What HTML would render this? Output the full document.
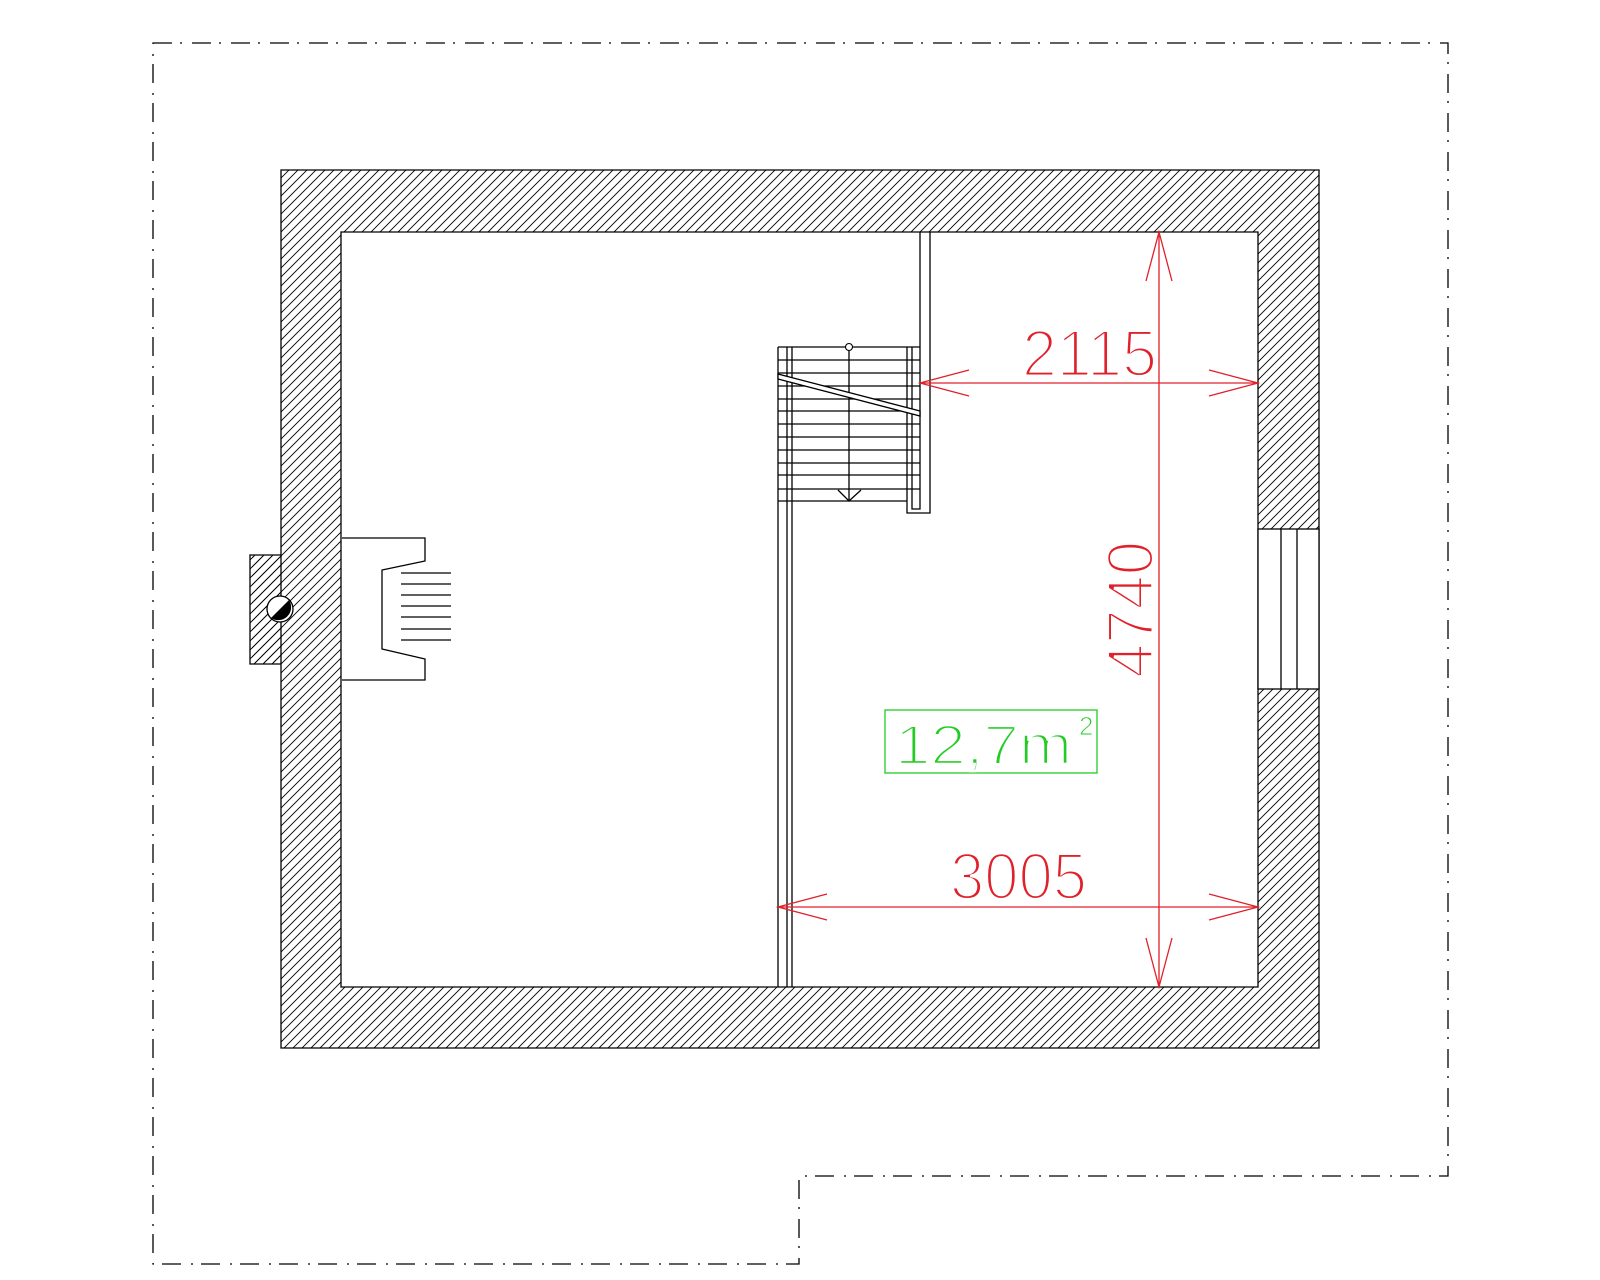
<!DOCTYPE html>
<html><head><meta charset="utf-8"><style>html,body{margin:0;padding:0;background:#fff}svg{display:block}</style></head>
<body>
<svg xmlns="http://www.w3.org/2000/svg" width="1600" height="1280" viewBox="0 0 1600 1280">
<defs>
<pattern id="h" width="9" height="9" patternUnits="userSpaceOnUse">
<path d="M-2,11 L11,-2 M-2,2 L2,-2 M7,11 L11,7" stroke="#000" stroke-width="0.9"/>
</pattern>
</defs>
<rect width="1600" height="1280" fill="#fff"/>
<path d="M153,43 H1448 V1176 H799 V1264 H153 Z" fill="none" stroke="#000" stroke-width="1.3" stroke-dasharray="19 8 2 10"/>
<path d="M281,170 H1319 V1048 H281 Z M341,232 V987 H1258 V232 Z" fill="url(#h)" fill-rule="evenodd" stroke="#000" stroke-width="1.3"/>
<path d="M281,555 H250 V664 H281" fill="url(#h)" stroke="#000" stroke-width="1.3"/>
<rect x="252" y="556" width="30" height="107" fill="url(#h)"/>
<circle cx="280" cy="609" r="13" fill="#fff" stroke="#000" stroke-width="1.3"/>
<path d="M289,600 A13,13 0 0 1 271,618 Z" fill="#000"/>
<path d="M342,538 H425 V561 L382,570 V649 L425,659 V680 H342" fill="#fff" stroke="#000" stroke-width="1.3"/>
<g stroke="#000" stroke-width="1.2">
<line x1="401" y1="573" x2="451" y2="573"/><line x1="401" y1="584" x2="451" y2="584"/>
<line x1="401" y1="595" x2="451" y2="595"/><line x1="401" y1="606" x2="451" y2="606"/>
<line x1="401" y1="617" x2="451" y2="617"/><line x1="401" y1="629" x2="451" y2="629"/>
<line x1="401" y1="640" x2="451" y2="640"/>
</g>
<rect x="1258" y="529" width="61" height="160" fill="#fff" stroke="#000" stroke-width="1.3"/>
<line x1="1281" y1="529" x2="1281" y2="689" stroke="#000" stroke-width="1.3"/>
<line x1="1297" y1="529" x2="1297" y2="689" stroke="#000" stroke-width="1.3"/>
<g stroke="#000" stroke-width="1.3" fill="none">
<line x1="778" y1="347" x2="778" y2="987"/>
<line x1="787" y1="347" x2="787" y2="987"/>
<line x1="792" y1="347" x2="792" y2="987"/>
<path d="M907,347 V513 H930 V232"/>
<path d="M912,347 V509 H920 V232"/>
<line x1="778" y1="347" x2="920" y2="347"/><line x1="778" y1="360" x2="920" y2="360"/>
<line x1="778" y1="373" x2="920" y2="373"/><line x1="778" y1="386" x2="920" y2="386"/>
<line x1="778" y1="399" x2="920" y2="399"/><line x1="778" y1="411" x2="920" y2="411"/>
<line x1="778" y1="424" x2="920" y2="424"/><line x1="778" y1="437" x2="920" y2="437"/>
<line x1="778" y1="450" x2="920" y2="450"/><line x1="778" y1="463" x2="920" y2="463"/>
<line x1="778" y1="475" x2="920" y2="475"/><line x1="778" y1="489" x2="920" y2="489"/>
<line x1="778" y1="501" x2="907" y2="501"/>
<line x1="849" y1="347" x2="849" y2="501"/>
<path d="M838,490 L849,501 L861,490"/>
</g>
<path d="M778,374 L920,411 L920,416 L778,379 Z" fill="#fff" stroke="#000" stroke-width="1.3"/>
<circle cx="849" cy="347" r="3.5" fill="#fff" stroke="#000" stroke-width="1.1"/>
<g stroke="#e0202a" stroke-width="1.3" fill="none">
<line x1="920" y1="383" x2="1258" y2="383"/>
<path d="M969,370 L920,383 L969,396"/>
<path d="M1209,370 L1258,383 L1209,396"/>
<line x1="778" y1="907" x2="1258" y2="907"/>
<path d="M827,894 L778,907 L827,920"/>
<path d="M1209,894 L1258,907 L1209,920"/>
<line x1="1159" y1="232" x2="1159" y2="987"/>
<path d="M1146,281 L1159,232 L1172,281"/>
<path d="M1146,938 L1159,987 L1172,938"/>
</g>
<g font-family="Liberation Sans, sans-serif" fill="#e0202a" font-size="66" stroke="#fff" stroke-width="3">
<text x="1022" y="376" textLength="135" lengthAdjust="spacingAndGlyphs">2115</text>
<text x="950" y="899" textLength="137" lengthAdjust="spacingAndGlyphs">3005</text>
<text transform="translate(1153,678) rotate(-90)" x="0" y="0" textLength="137" lengthAdjust="spacingAndGlyphs">4740</text>
</g>
<rect x="885" y="710" width="212" height="63" fill="none" stroke="#22cc22" stroke-width="1.3"/>
<text x="895" y="764" font-family="Liberation Sans, sans-serif" font-size="56" fill="#22cc22" stroke="#fff" stroke-width="2.5" textLength="177" lengthAdjust="spacingAndGlyphs">12,7m</text>
<text x="1079" y="735" font-family="Liberation Sans, sans-serif" font-size="26" fill="#22cc22" stroke="#fff" stroke-width="1">2</text>
</svg>
</body></html>
